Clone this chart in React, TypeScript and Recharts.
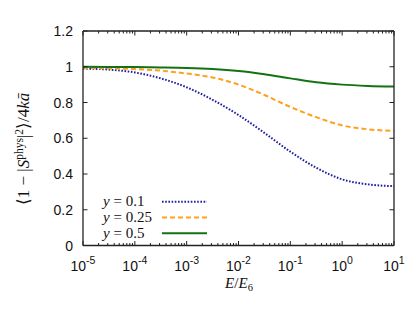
import React from "react";
import { LineChart, Line, XAxis, YAxis, Legend, Customized } from "recharts";

const energies = [1e-5, 3.162e-5, 1e-4, 3.162e-4, 1e-3, 3.162e-3, 1e-2, 3.162e-2, 1e-1, 3.162e-1, 1, 3.162, 10];
const yPoint1 = [0.99, 0.984, 0.968, 0.935, 0.885, 0.815, 0.73, 0.63, 0.525, 0.435, 0.37, 0.342, 0.332];
const yPoint25 = [0.994, 0.991, 0.987, 0.978, 0.962, 0.94, 0.9, 0.842, 0.775, 0.718, 0.672, 0.65, 0.641];
const yPoint5 = [1.0, 0.999, 0.998, 0.996, 0.993, 0.987, 0.976, 0.958, 0.935, 0.913, 0.9, 0.893, 0.889];

const seriesLabels = ["0.1", "0.25", "0.5"];
const seriesKeys = ["a", "b", "c"];
const seriesColors = ["#1e1ea0", "#ff9f1c", "#137313"];
const seriesDash = ["1.6 1.6", "5 3", undefined];

const majorXTicks = [1e-5, 1e-4, 1e-3, 1e-2, 1e-1, 1, 10];
const yTicks = [0, 0.2, 0.4, 0.6, 0.8, 1, 1.2];
const yTickLabels = ["0", "0.2", "0.4", "0.6", "0.8", "1", "1.2"];

const minorXTicks: number[] = [];
majorXTicks.slice(0, -1).forEach((m) => {
  for (let k = 2; k <= 9; k++) minorXTicks.push(m * k);
});
const allXTicks = [...majorXTicks, ...minorXTicks].sort((p, q) => p - q);

const data = energies.map((e, i) => ({ e, a: yPoint1[i], b: yPoint25[i], c: yPoint5[i] }));

const AX = "#222";
const SANS = "'Liberation Sans', Arial, sans-serif";
const SERIF = "'Liberation Serif', 'Times New Roman', serif";

const isMajor = (v: number) => Math.abs(Math.log10(v) - Math.round(Math.log10(v))) < 1e-6;

const BottomTick = (props: any) => {
  const { x, y, payload } = props;
  const v = payload.value;
  const major = isMajor(v);
  const len = major ? 4.5 : 2.5;
  return (
    <g>
      <line x1={x} x2={x} y1={y} y2={y - len} stroke={AX} strokeWidth={1} />
      {major && (
        <text x={x} y={y + 25} textAnchor="middle" fontFamily={SANS} fontSize={14} fill="#111">
          10
          <tspan dy={-7} fontSize={10.5}>{String(Math.round(Math.log10(v)))}</tspan>
        </text>
      )}
    </g>
  );
};

const TopTick = (props: any) => {
  const { x, y, payload } = props;
  const len = isMajor(payload.value) ? 4.5 : 2.5;
  return <line x1={x} x2={x} y1={y} y2={y + len} stroke={AX} strokeWidth={1} />;
};

const LeftTick = (props: any) => {
  const { x, y, payload, index } = props;
  return (
    <g>
      <line x1={x} x2={x + 4.5} y1={y} y2={y} stroke={AX} strokeWidth={1} />
      <text x={x - 10} y={y + 5} textAnchor="end" fontFamily={SANS} fontSize={14} fill="#111">
        {yTickLabels[index] ?? String(payload.value)}
      </text>
    </g>
  );
};

const RightTick = (props: any) => {
  const { x, y } = props;
  return <line x1={x} x2={x - 4.5} y1={y} y2={y} stroke={AX} strokeWidth={1} />;
};

const LegendContent = () => (
  <svg width={415} height={310} style={{ position: "absolute", left: 0, top: 0, overflow: "visible" }}>
    {seriesLabels.map((lab, i) => {
      const cy = 201.7 + i * 15.8;
      return (
        <g key={lab}>
          <text x={103} y={cy + 4.5} fontFamily={SERIF} fontSize={15} fill="#111">
            <tspan fontStyle="italic">y</tspan>
            {" = " + lab}
          </text>
          <line
            x1={162}
            x2={207}
            y1={cy}
            y2={cy}
            stroke={seriesColors[i]}
            strokeWidth={2}
            strokeDasharray={seriesDash[i]}
          />
        </g>
      );
    })}
  </svg>
);

const AxisLabels = () => (
  <g>
    <text
      x={29}
      y={149}
      transform="rotate(-90, 29, 149)"
      textAnchor="middle"
      fontFamily={SERIF}
      fontSize={17}
      fill="#111"
    >
      {"⟨1 − |"}
      <tspan fontStyle="italic">S</tspan>
      <tspan dy={-6} fontSize={11.5}>phys</tspan>
      <tspan dy={6}>|</tspan>
      <tspan dy={-6} fontSize={11.5}>2</tspan>
      <tspan dy={6}>{"⟩/4"}</tspan>
      <tspan fontStyle="italic">{"ka\u0304"}</tspan>
    </text>
    <text x={239} y={288} textAnchor="middle" fontFamily={SERIF} fontSize={15} fill="#111">
      <tspan fontStyle="italic">E</tspan>
      {"/"}
      <tspan fontStyle="italic">E</tspan>
      <tspan dy={3} fontSize={10.5}>6</tspan>
    </text>
  </g>
);

export default function App() {
  return (
    <div style={{ position: "absolute", left: 0, top: 0, width: 415, height: 310, background: "#fff" }}>
      <LineChart width={415} height={310} data={data} margin={{ top: 30, left: 43, right: 20, bottom: 34.5 }}>
        <XAxis
          dataKey="e"
          type="number"
          scale="log"
          domain={[1e-5, 10]}
          allowDataOverflow
          ticks={allXTicks}
          interval={0}
          height={30}
          tickSize={0}
          tickMargin={0}
          tickLine={false}
          axisLine={{ stroke: AX, strokeWidth: 1.3 }}
          tick={<BottomTick />}
        />
        <XAxis
          xAxisId="top"
          orientation="top"
          dataKey="e"
          type="number"
          scale="log"
          domain={[1e-5, 10]}
          allowDataOverflow
          ticks={allXTicks}
          interval={0}
          height={1}
          tickSize={0}
          tickMargin={0}
          tickLine={false}
          axisLine={{ stroke: AX, strokeWidth: 1.3 }}
          tick={<TopTick />}
        />
        <YAxis
          type="number"
          domain={[0, 1.2]}
          allowDataOverflow
          ticks={yTicks}
          interval={0}
          width={40}
          tickSize={0}
          tickMargin={0}
          tickLine={false}
          axisLine={{ stroke: AX, strokeWidth: 1.3 }}
          tick={<LeftTick />}
        />
        <YAxis
          yAxisId="right"
          orientation="right"
          type="number"
          domain={[0, 1.2]}
          allowDataOverflow
          ticks={yTicks}
          interval={0}
          width={1}
          tickSize={0}
          tickMargin={0}
          tickLine={false}
          axisLine={{ stroke: AX, strokeWidth: 1.3 }}
          tick={<RightTick />}
        />
        {seriesKeys.map((k, i) => (
          <Line
            key={k}
            dataKey={k}
            name={"y = " + seriesLabels[i]}
            type="monotone"
            stroke={seriesColors[i]}
            strokeWidth={2}
            strokeDasharray={seriesDash[i]}
            dot={false}
            activeDot={false}
            isAnimationActive={false}
          />
        ))}
        <Legend
          layout="vertical"
          align="center"
          verticalAlign="middle"
          content={<LegendContent />}
          wrapperStyle={{ position: "absolute", left: 0, top: 0, width: 415, height: 310, pointerEvents: "none" }}
        />
        <Customized component={<AxisLabels />} />
      </LineChart>
    </div>
  );
}
